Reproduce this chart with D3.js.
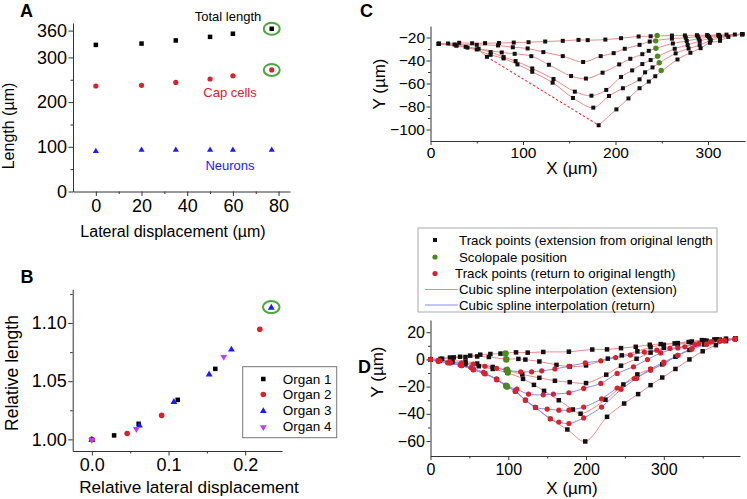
<!DOCTYPE html>
<html><head><meta charset="utf-8">
<script src="https://cdn.jsdelivr.net/npm/d3@7"></script>
<style>
body{margin:0;background:#fff;}
svg{display:block;}
</style></head><body>
<svg id="chart" width="747" height="499"></svg>
<script>
// ---------------- DATA ----------------
// Panel A
const aDisplacement = [0, 20, 35, 50, 60, 77];
const aTotalLength  = [328, 331, 338, 346, 353, 364];
const aCapCells     = [236, 237.5, 244, 251.7, 259, 272];
const aNeurons      = [91.5, 94.4, 94.4, 94.4, 94.4, 94.4];
const aYTicks = [0, 100, 200, 300, 360];
const aXTicks = [0, 20, 40, 60, 80];

// Panel B  [relative lateral displacement, relative length]
const bOrgan1 = [[0,1.000],[0.029,1.0034],[0.061,1.0134],[0.112,1.034],[0.161,1.0606]];
const bOrgan2 = [[0,1.000],[0.046,1.0051],[0.091,1.0206],[0.219,1.0946]];
const bOrgan3 = [[0,1.000],[0.062,1.0123],[0.107,1.0326],[0.153,1.0563],[0.182,1.0777],[0.234,1.1137]];
const bOrgan4 = [[0,1.000],[0.058,1.0094],[0.172,1.0714]];
const bOrganNames = ["Organ 1","Organ 2","Organ 3","Organ 4"];
const bYTicks = [1.00, 1.05, 1.10];
const bXTicks = [0.0, 0.1, 0.2];

// Panel C  extension track points [X, Y]
const cExt1 = [[9,-25.5],[19,-25.2],[31,-24.6],[45,-25.0],[59,-24.9],[74,-24.8],[90,-24.4],[106,-24.1],[124,-23.5],[143,-22.9],[160,-22.1],[170,-22.3],[189,-21.8],[206,-20.6],[225,-19.1],[238,-18.9],[261,-18.3],[275,-18.2],[288,-18.0],[299,-17.9],[311,-17.7],[320,-17.5],[329,-17.4],[337,-17.1]];
const cExt2 = [[9,-25.5],[26,-26.1],[50,-26.4],[73,-26.9],[89,-28.5],[105,-29.5],[122,-32.7],[143,-36.2],[165,-41.3],[184,-36.2],[198,-33.6],[210,-29.8],[226,-26.4],[237,-23.5],[261,-21.0],[276,-20.2],[289,-19.2],[300,-18.6],[312,-18.0],[337,-17.1]];
const cExt3 = [[9,-25.5],[28,-26.9],[52,-29.8],[77,-33.0],[91,-34.2],[109,-36.2],[128,-43.7],[152,-53.5],[168,-55.7],[186,-50.6],[204,-43.4],[216,-38.5],[229,-34.5],[236,-31.6],[262,-25.2],[277,-23.0],[290,-21.0],[301,-19.6],[312,-18.8],[337,-17.1]];
const cExt4 = [[9,-25.5],[38,-28.1],[65,-32.7],[79,-37.0],[92,-40.5],[110,-46.9],[133,-56.1],[156,-67.1],[174,-70.6],[190,-65.6],[206,-54.3],[218,-48.6],[229,-43.1],[238,-39.6],[264,-29.8],[278,-26.5],[291,-23.0],[302,-20.9],[313,-19.5],[337,-17.1]];
const cExt5 = [[9,-25.5],[40,-28.8],[65,-35.1],[79,-38.2],[94,-43.4],[110,-49.8],[132,-59.3],[154,-72.6],[176,-81.0],[193,-70.8],[208,-64.1],[226,-56.4],[232,-50.3],[240,-46.0],[265,-33.8],[279,-29.6],[291,-26.6],[303,-22.4],[313,-20.5],[337,-17.1]];
const cExt6Left  = [[9,-25.5],[28,-27.0],[50,-30.4],[61,-36.8]];
const cExt6Right = [[181.8,-96.3],[201,-82.5],[214,-73.0],[226,-64.1],[236,-58.3],[243,-53.7],[267,-39.1],[281,-33.3],[292,-29.3],[302,-24.6],[313,-22.9],[322,-19.5],[337,-17.1]];
const cScolopale = [[245,-18.3],[243.4,-22.9],[243.7,-29.3],[245.5,-36.2],[247.3,-42.0],[249.4,-48.6]];
const cXTicks = [0, 100, 200, 300];
const cYTicks = [-20, -40, -60, -80, -100];

// Panel D  extension (black squares, red spline) and return (red dots, blue spline)
const dExt1 = [[0,0],[13,0.4],[25,1.4],[38,2.0],[51,2.8],[64,3.5],[77,4.0],[90,4.3],[110,5.2],[125,5.0],[145,5.5],[178,5.7],[208,7.3],[227,7.4],[245,8.3],[264,9.3],[282,10.8],[296,11.3],[314,11.8],[332,12.8],[349,14.2],[365,14.7],[380,15.3],[392,15.2]];
const dExt2 = [[0,0],[15,0.5],[30,1.5],[45,1.8],[60,2.2],[75,1.8],[97,0.3],[113,0.4],[122,-0.1],[140,-1.5],[162,-4.0],[179,-5.2],[200,-4.4],[228,0.6],[246,3.0],[266,6.0],[283,9.0],[300,10.8],[318,12.0],[336,13.2],[352,14.0],[368,14.8],[392,15.2]];
const dExt3 = [[0,0],[12,-0.5],[28,-1.0],[45,-1.5],[60,-3.0],[80,-5.5],[97,-7.8],[118,-11.0],[140,-13.5],[160,-15.7],[179,-16.7],[200,-17.4],[226,-11.2],[245,-4.6],[265,0.5],[283,5.0],[300,8.5],[318,11.0],[336,12.5],[355,13.8],[372,14.6],[392,15.2]];
const dExt4 = [[0,0],[12,-1.0],[28,-2.0],[45,-3.5],[62,-5.0],[80,-7.0],[99,-9.8],[119,-14.3],[133,-18.7],[146,-23.1],[165,-30.0],[183,-36.8],[193,-39.9],[225,-29.6],[248,-18.4],[266,-11.0],[283,-7.2],[298,-3.6],[315,2.0],[333,7.0],[352,11.0],[372,13.8],[392,15.2]];
const dExt5 = [[0,0],[10,-1.0],[25,-2.5],[40,-4.5],[55,-7.5],[70,-10.5],[85,-14.5],[98,-19.6],[109,-23.3],[122,-29.9],[135,-35.3],[154,-43.7],[176,-51.5],[199,-60.3],[227,-42.2],[249,-32.4],[267,-25.5],[283,-18.9],[298,-13.3],[315,-7.0],[333,0.0],[350,6.0],[367,10.5],[380,13.5],[392,15.2]];
const dRet1 = [[0,0],[12,-0.8],[25,-1.5],[40,-2.5],[55,-3.5],[70,-5.0],[85,-6.5],[98,-7.8],[116,-9.1],[130,-9.1],[143,-8.4],[160,-7.0],[178,-5.0],[199,-2.5],[219,-1.0],[238,1.4],[257,3.2],[275,5.4],[291,6.8],[308,8.1],[327,9.3],[345,11.7],[362,13.0],[378,13.7],[391,14.9]];
const dRet2 = [[0,0],[10,-1.5],[22,-2.5],[38,-4.0],[52,-6.0],[68,-9.5],[85,-15.0],[98,-19.6],[111,-21.9],[126,-25.5],[145,-26.0],[158,-25.5],[178,-24.5],[197,-21.3],[219,-17.6],[240,-10.3],[261,-5.4],[279,-0.1],[296,4.8],[318,8.5],[340,11.0],[360,12.8],[378,14.0],[392,15.0]];
const dRet3 = [[0,0],[10,-1.0],[25,-2.5],[40,-4.5],[55,-7.5],[70,-10.5],[85,-14.5],[98,-19.6],[109,-23.3],[122,-29.9],[135,-35.3],[150,-36.5],[165,-37.3],[178,-37.3],[197,-35.0],[220,-29.0],[240,-21.0],[262,-14.0],[283,-8.0],[300,-3.0],[318,3.0],[336,8.0],[355,11.5],[372,13.5],[392,15.0]];
const dRet4 = [[0,0],[10,-1.0],[25,-2.5],[40,-4.5],[55,-7.5],[70,-10.5],[85,-14.5],[98,-19.6],[109,-23.3],[122,-29.9],[135,-35.3],[154,-43.7],[165,-46.0],[178,-47.1],[197,-43.0],[220,-35.0],[245,-22.0],[265,-14.0],[283,-7.0],[300,-2.0],[318,3.0],[336,7.5],[355,11.0],[372,13.5],[392,15.0]];
const dScolopale = [[96.5,4.4],[97.5,0.0],[98.7,-7.6],[99.5,-9.6],[97.2,-19.3],[98.5,-20.0]];
const dXTicks = [0, 100, 200, 300];
const dYTicks = [20, 0, -20, -40, -60];
const dLegendLabels = ["Track points (extension from original length","Scolopale position","Track points (return to original length)","Cubic spline interpolation (extension)","Cubic spline interpolation (return)"];

// ---------------- DRAWING ----------------
const FONT = '"Liberation Sans", Arial, Helvetica, sans-serif';
const svg = d3.select("#chart").attr("font-family", FONT);
const AX = "#333";
const RED = "#d9222b", BLUE = "#1a1aff", MAG = "#c43cf2", GREEN = "#4a8a1f", RING = "#4aa83e";
const LRED = "#ec8a8a", LBLUE = "#8a8af0";

function axis(g, make, major, minor, fmt, fs, size, pad, minorSize) {
  const main = g.append("g").call(make().tickValues(major).tickFormat(fmt).tickSize(size).tickPadding(pad).tickSizeOuter(0));
  main.attr("font-size", fs).attr("font-family", FONT);
  main.selectAll(".domain").attr("stroke", AX);
  main.selectAll(".tick line").attr("stroke", AX);
  main.selectAll("text").attr("fill", "#000");
  if (minor && minor.length) {
    const mn = g.append("g").call(make().tickValues(minor).tickFormat(() => "").tickSize(minorSize || 2.5).tickSizeOuter(0));
    mn.select(".domain").remove();
    mn.selectAll(".tick line").attr("stroke", AX);
  }
}
function squares(g, data, x, y, s, color) {
  g.selectAll(null).data(data).join("rect")
    .attr("x", d => x(d[0]) - s/2).attr("y", d => y(d[1]) - s/2)
    .attr("width", s).attr("height", s).attr("fill", color);
}
function dots(g, data, x, y, r, color) {
  g.selectAll(null).data(data).join("circle")
    .attr("cx", d => x(d[0])).attr("cy", d => y(d[1])).attr("r", r).attr("fill", color);
}
function tris(g, data, x, y, area, color, down) {
  const sym = d3.symbol(d3.symbolTriangle, area);
  g.selectAll(null).data(data).join("path").attr("d", sym)
    .attr("transform", d => `translate(${x(d[0])},${y(d[1]) + 0.6})${down ? " rotate(180)" : ""}`)
    .attr("fill", color);
}
function label(txt, x, y, fs, opts = {}) {
  const t = svg.append("text").text(txt).attr("x", x).attr("y", y).attr("font-size", fs)
    .attr("fill", opts.fill || "#000").attr("text-anchor", opts.anchor || "middle");
  if (opts.bold) t.attr("font-weight", "bold");
  if (opts.rot) t.attr("transform", `rotate(-90,${x},${y})`);
  return t;
}

// ===== Panel A =====
{
  const x = d3.scaleLinear().domain([-10, 85]).range([73, 290]);
  const y = d3.scaleLinear().domain([0, 377]).range([191.5, 23]);
  const g = svg.append("g");
  axis(g.append("g").attr("transform", `translate(0,${y.range()[0]})`), () => d3.axisBottom(x), aXTicks, [10,30,50,70], d3.format("d"), 18, 4.5, 3, 2.5);
  axis(g.append("g").attr("transform", `translate(${x.range()[0]},0)`), () => d3.axisLeft(y), aYTicks, [50,150,250], d3.format("d"), 18, 4.5, 1.5, 2.5);
  const tot = aDisplacement.map((d,i) => [d, aTotalLength[i]]);
  const cap = aDisplacement.map((d,i) => [d, aCapCells[i]]);
  const neu = aDisplacement.map((d,i) => [d, aNeurons[i]]);
  squares(g, tot, x, y, 4.5, "#000");
  dots(g, cap, x, y, 2.6, RED);
  tris(g, neu, x, y, 16, BLUE, false);
  [tot[tot.length-1], cap[cap.length-1]].forEach(p => {
    g.append("ellipse").attr("cx", x(p[0])).attr("cy", y(p[1])).attr("rx", 8).attr("ry", 6)
      .attr("fill", "none").attr("stroke", RING).attr("stroke-width", 2);
  });
  label("Total length", 228, 21, 13);
  label("Cap cells", 230, 97, 13, {fill: RED});
  label("Neurons", 230, 169.5, 13, {fill: BLUE});
  label("Length (µm)", 14, 126, 16, {rot: true});
  label("Lateral displacement (µm)", 173, 237, 16);
  label("A", 20, 17, 18, {bold: true, anchor: "start"});
}

// ===== Panel B =====
{
  const x = d3.scaleLinear().domain([-0.025, 0.248]).range([72.7, 282]);
  const y = d3.scaleLinear().domain([0.99, 1.129]).range([451, 289.3]);
  const g = svg.append("g");
  axis(g.append("g").attr("transform", `translate(0,${y.range()[0]})`), () => d3.axisBottom(x), bXTicks, [0.05,0.15], d3.format(".1f"), 18, 4.5, 3, 2.5);
  axis(g.append("g").attr("transform", `translate(${x.range()[0]},0)`), () => d3.axisLeft(y), bYTicks, [1.025,1.075,1.125], d3.format(".2f"), 18, 4.5, 1.5, 2.5);
  squares(g, bOrgan1, x, y, 4.5, "#000");
  dots(g, bOrgan2, x, y, 2.8, RED);
  tris(g, bOrgan3, x, y, 20, BLUE, false);
  tris(g, bOrgan4, x, y, 20, MAG, true);
  const last = bOrgan3[bOrgan3.length-1];
  g.append("ellipse").attr("cx", x(last[0])).attr("cy", y(last[1])).attr("rx", 8.3).attr("ry", 6)
    .attr("fill", "none").attr("stroke", RING).attr("stroke-width", 2);
  // legend
  const lg = svg.append("g");
  lg.append("rect").attr("x", 242.7).attr("y", 366.7).attr("width", 94).attr("height", 71)
    .attr("fill", "#fff").attr("stroke", "#777").attr("stroke-width", 1);
  const rows = [379, 394.5, 410.5, 426.5];
  const one = d3.scaleIdentity();
  bOrganNames.forEach((n, i) => {
    const pt = [[263.3, rows[i]]];
    if (i === 0) squares(lg, pt, one, one, 4.5, "#000");
    if (i === 1) dots(lg, pt, one, one, 2.8, RED);
    if (i === 2) tris(lg, pt, one, one, 20, BLUE, false);
    if (i === 3) tris(lg, pt, one, one, 20, MAG, true);
    lg.append("text").text(n).attr("x", 282.7).attr("y", rows[i]).attr("dy", "0.36em")
      .attr("font-size", 13.5).attr("fill", "#000");
  });
  label("Relative length", 17.5, 373, 17.5, {rot: true});
  label("Relative lateral displacement", 189, 493, 17.2);
  label("B", 20.5, 283, 18, {bold: true, anchor: "start"});
}

// ===== Panel C =====
{
  const x = d3.scaleLinear().domain([0, 340]).range([430.5, 745]);
  const y = d3.scaleLinear().domain([-110, -10]).range([141, 26]);
  const g = svg.append("g");
  axis(g.append("g").attr("transform", `translate(0,${y.range()[0]})`), () => d3.axisBottom(x), cXTicks, [50,150,250], d3.format("d"), 15.5, 4, 1.5, 2.5);
  axis(g.append("g").attr("transform", `translate(${x.range()[0]},0)`), () => d3.axisLeft(y), cYTicks, [-30,-50,-70,-90], d3.format("d"), 15.5, 4, 1.5, 2.5);
  const line = d3.line().x(d => x(d[0])).y(d => y(d[1])).curve(d3.curveCatmullRom.alpha(0.5));
  const lineStraight = d3.line().x(d => x(d[0])).y(d => y(d[1]));
  const curves = [cExt1, cExt2, cExt3, cExt4, cExt5, cExt6Left, cExt6Right];
  curves.forEach(c => g.append("path").attr("d", line(c)).attr("fill", "none").attr("stroke", LRED).attr("stroke-width", 1));
  g.append("path").attr("d", lineStraight([cExt6Left[cExt6Left.length-1], cExt6Right[0]]))
    .attr("fill", "none").attr("stroke", "#e23a3a").attr("stroke-width", 1.1).attr("stroke-dasharray", "2.5,2");
  curves.forEach(c => squares(g, c, x, y, 4, "#111"));
  dots(g, cScolopale, x, y, 2.7, GREEN);
  label("Y (µm)", 385, 84, 17, {rot: true});
  label("X (µm)", 572, 174, 17);
  label("C", 360, 16.7, 18, {bold: true, anchor: "start"});
}

// ===== Panel D =====
{
  const x = d3.scaleLinear().domain([0, 398]).range([430.5, 740]);
  const y = d3.scaleLinear().domain([-71, 29]).range([456, 320]);
  const g = svg.append("g");
  axis(g.append("g").attr("transform", `translate(0,${y.range()[0]})`), () => d3.axisBottom(x), dXTicks, [50,150,250,350], d3.format("d"), 16, 4, 4, 2.5);
  axis(g.append("g").attr("transform", `translate(${x.range()[0]},0)`), () => d3.axisLeft(y), dYTicks, [10,-10,-30,-50], d3.format("d"), 16, 4, 1.5, 2.5);
  const line = d3.line().x(d => x(d[0])).y(d => y(d[1])).curve(d3.curveCatmullRom.alpha(0.5));
  const ext = [dExt1, dExt2, dExt3, dExt4, dExt5];
  const ret = [dRet1, dRet2, dRet3, dRet4];
  ext.forEach(c => g.append("path").attr("d", line(c)).attr("fill", "none").attr("stroke", LRED).attr("stroke-width", 1));
  ret.forEach(c => g.append("path").attr("d", line(c)).attr("fill", "none").attr("stroke", LBLUE).attr("stroke-width", 1));
  ext.forEach(c => squares(g, c, x, y, 4.5, "#111"));
  ret.forEach(c => dots(g, c, x, y, 2.6, RED));
  dots(g, dScolopale, x, y, 3.2, GREEN);
  // legend
  const lg = svg.append("g");
  lg.append("rect").attr("x", 418).attr("y", 228).attr("width", 299).attr("height", 84)
    .attr("fill", "#fff").attr("stroke", "#aaa").attr("stroke-width", 1);
  const rows = [240, 257, 273.5, 289.5, 305];
  const tx = [459, 459, 455, 459, 459];
  const one = d3.scaleIdentity();
  squares(lg, [[435, rows[0]]], one, one, 4, "#111");
  dots(lg, [[435, rows[1]]], one, one, 2.6, GREEN);
  dots(lg, [[435, rows[2]]], one, one, 2.6, RED);
  lg.append("line").attr("x1", 425).attr("x2", 458).attr("y1", rows[3]).attr("y2", rows[3]).attr("stroke", LRED);
  lg.append("line").attr("x1", 425).attr("x2", 458).attr("y1", rows[4]).attr("y2", rows[4]).attr("stroke", LBLUE);
  dLegendLabels.forEach((t, i) => lg.append("text").text(t).attr("x", tx[i]).attr("y", rows[i]).attr("dy", "0.36em")
    .attr("font-size", 13.3).attr("fill", "#000"));
  label("Y (µm)", 383, 372, 17, {rot: true});
  label("X (µm)", 572, 494, 17);
  label("D", 358, 373, 18, {bold: true, anchor: "start"});
}
</script>
</body></html>
